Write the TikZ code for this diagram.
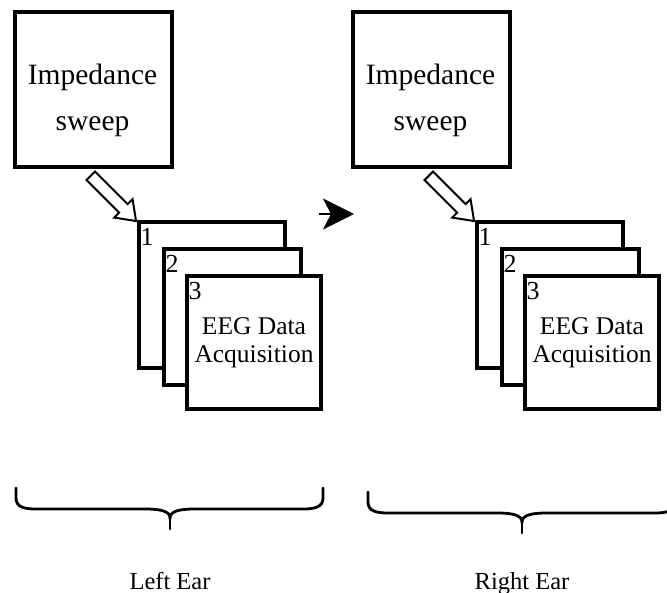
\documentclass[tikz,border=0pt]{standalone}
\usepackage{fontspec}
\setmainfont{Liberation Serif}
\usetikzlibrary{arrows.meta,shapes.arrows}

\tikzset{
  sweepbox/.style={draw, line width=3.2pt, minimum width=157pt, minimum height=155pt, inner sep=0pt},
  sweeptext/.style={align=center, inner sep=0pt, font=\fontsize{29.5}{46}\selectfont},
  acqbox/.style={draw, line width=3.2pt, fill=white, inner sep=0pt, align=center,
    font=\fontsize{25.5}{28}\selectfont},
  acqnum/.style={anchor=north west, inner sep=0pt, xshift=3pt, yshift=-8pt,
    font=\fontsize{26}{28}\selectfont},
  hollowarrow/.style={single arrow, draw, line width=2pt, inner sep=5pt,
    minimum height=64pt, single arrow head extend=7pt, single arrow tip angle=72, rotate=-45},
  earbrace/.style={line width=2.8pt, line cap=round},
  eartext/.style={anchor=base, font=\fontsize{24.5}{26}\selectfont}
}

\begin{document}
\begin{tikzpicture}[x=1pt, y=-1pt]
  \clip (0,0) rectangle (667,593);

  % Left ear: impedance sweep
  \node[sweepbox] (imp1) at (93.5,89.5) {};
  \node[sweeptext] (imptxt1) at (92.5,100) {Impedance\\sweep};
  \node[hollowarrow] (go1) at (110.5,195.5) {};

  % Left ear: three acquisition runs, back to front
  \node[acqbox, minimum width=146pt, minimum height=146pt] (a1) at (212,295) {};
  \node[acqnum] (n1) at (a1.north west) {1};
  \node[acqbox, minimum width=137pt, minimum height=136pt] (a2) at (232.5,317) {};
  \node[acqnum] (n2) at (a2.north west) {2};
  \node[acqbox, minimum width=134pt, minimum height=133pt] (a3) at (254,342.5) {EEG Data\\Acquisition};
  \node[acqnum] (n3) at (a3.north west) {3};

  % from left ear to right ear
  \coordinate (from) at (319,214);
  \coordinate (to) at (354,214);
  \draw[line width=2.5pt, -{Stealth[length=31pt, width=31pt, inset=8pt]}] (from) -- (to);

  % Right ear: impedance sweep
  \node[sweepbox] (imp2) at (431.5,89.5) {};
  \node[sweeptext] (imptxt2) at (430.5,100) {Impedance\\sweep};
  \node[hollowarrow] (go2) at (448.5,195.5) {};

  % Right ear: three acquisition runs
  \node[acqbox, minimum width=146pt, minimum height=146pt] (b1) at (550,295) {};
  \node[acqnum] (m1) at (b1.north west) {1};
  \node[acqbox, minimum width=137pt, minimum height=136pt] (b2) at (570.5,317) {};
  \node[acqnum] (m2) at (b2.north west) {2};
  \node[acqbox, minimum width=134pt, minimum height=133pt] (b3) at (592,342.5) {EEG Data\\Acquisition};
  \node[acqnum] (m3) at (b3.north west) {3};

  % Braces under each ear
  \draw[earbrace] (16,488) -- (16,498) .. controls (16,507) and (24,509) .. (36,509)
    -- (145,509) .. controls (160,509) and (170,511) .. (170,518)
    .. controls (170,511) and (180,509) .. (195,509) -- (303,509)
    .. controls (315,509) and (323,507) .. (323,498) -- (323,488);
  \draw[earbrace] (170,518) -- (170,529);
  \draw[earbrace] (368,492) -- (368,502) .. controls (368,511) and (376,513) .. (388,513)
    -- (497,513) .. controls (512,513) and (522,515) .. (522,522)
    .. controls (522,515) and (532,513) .. (547,513) -- (655,513)
    .. controls (667,513) and (675,511) .. (675,502) -- (675,492);
  \draw[earbrace] (522,522) -- (522,533);

  \node[eartext] (left) at (170,589) {Left Ear};
  \node[eartext] (right) at (522,589) {Right Ear};
\end{tikzpicture}
\end{document}
